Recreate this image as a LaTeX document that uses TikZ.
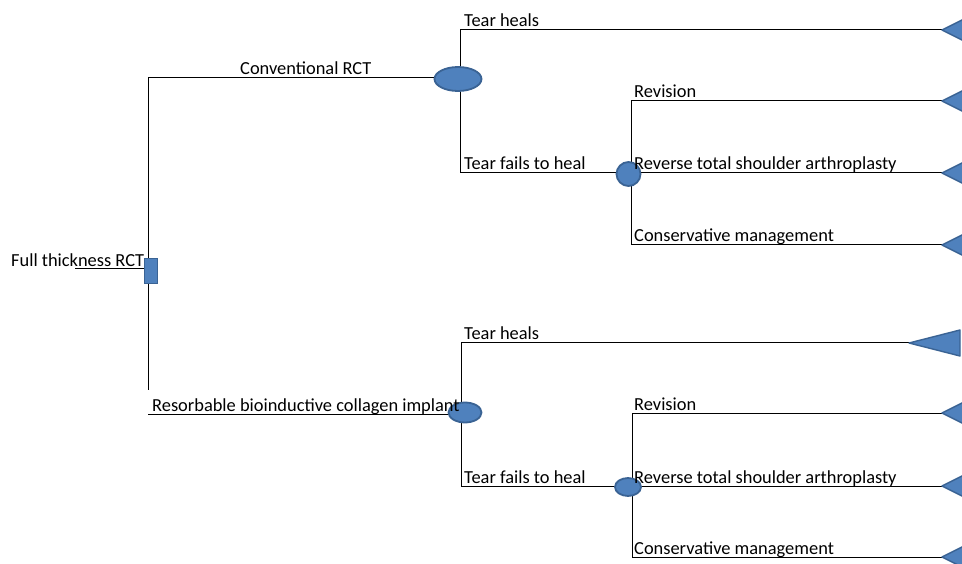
\documentclass[tikz,border=0pt]{standalone}
\usepackage{fontspec}
\setmainfont{Carlito}
\usetikzlibrary{shapes.geometric}
\definecolor{nodefill}{HTML}{4F81BD}
\definecolor{nodeedge}{HTML}{3A6394}
\begin{document}
\begin{tikzpicture}[x=1pt,y=-1pt,
  lbl/.style={anchor=base west, inner sep=0pt, font=\fontsize{18.4}{22}\selectfont},
  chance/.style={ellipse, draw=nodeedge, fill=nodefill, line width=1.8pt, inner sep=0pt},
  decision/.style={rectangle, draw=nodeedge, fill=nodefill, line width=1.5pt, inner sep=0pt, minimum width=13pt, minimum height=25pt},
  term/.style={draw=nodeedge, fill=nodefill, line width=1.4pt, line join=round},
  branch/.style={draw=black, line width=1pt}]
\useasboundingbox (0,0) rectangle (962,564);
\clip (0,0) rectangle (962,564);
\fill[white] (0,0) rectangle (962,564);

% coordinates
\coordinate (rs) at (75,269);
\coordinate (dtop) at (148,78);
\coordinate (dbot) at (148,390);
\coordinate (bstart) at (148,414);
\coordinate (c1t) at (460,30);
\coordinate (c1b) at (460,173);
\coordinate (c2t) at (631,101);
\coordinate (c2m) at (631,173);
\coordinate (c2b) at (631,245);
\coordinate (c3t) at (461,343);
\coordinate (c3b) at (461,486);
\coordinate (c4t) at (632,413);
\coordinate (c4m) at (632,486);
\coordinate (c4b) at (632,557);
\coordinate (t1) at (942,30);
\coordinate (t2) at (942,101);
\coordinate (t3) at (942,173);
\coordinate (t4) at (942,245);
\coordinate (t5) at (909,343);
\coordinate (t6) at (942,413);
\coordinate (t7) at (942,486);
\coordinate (t8) at (942,557);

% connectors
\draw[branch] (rs) -- (148,269);
\draw[branch] (dtop) -- (dbot);
\draw[branch] (dtop) -- (436,78);
\draw[branch] (bstart) -- (450,414);
\draw[branch] (c1t) -- (c1b);
\draw[branch] (c1t) -- (t1);
\draw[branch] (c1b) -- (618,173);
\draw[branch] (c2t) -- (c2b);
\draw[branch] (c2t) -- (t2);
\draw[branch] (c2m) -- (t3);
\draw[branch] (c2b) -- (t4);
\draw[branch] (c3t) -- (c3b);
\draw[branch] (c3t) -- (t5);
\draw[branch] (c3b) -- (616,486);
\draw[branch] (c4t) -- (c4b);
\draw[branch] (c4t) -- (t6);
\draw[branch] (c4m) -- (t7);
\draw[branch] (c4b) -- (t8);

% nodes
\node[decision] (D) at (151,271) {};
\node[chance, minimum width=47pt, minimum height=24pt] (C1) at (458,79) {};
\node[chance, minimum width=24pt, minimum height=24pt] (C2) at (628.5,174) {};
\node[chance, minimum width=33pt, minimum height=20pt] (C3) at (465,412.5) {};
\node[chance, minimum width=26pt, minimum height=18pt] (C4) at (628,487) {};

% terminal triangles
\draw[term] (t1) -- ++(48,-24) -- ++(0,48) -- cycle;
\draw[term] (t2) -- ++(48,-24) -- ++(0,48) -- cycle;
\draw[term] (t3) -- ++(48,-24) -- ++(0,48) -- cycle;
\draw[term] (t4) -- ++(48,-24) -- ++(0,48) -- cycle;
\draw[term] (t5) -- ++(51,-13) -- ++(0,26) -- cycle;
\draw[term] (t6) -- ++(48,-24) -- ++(0,48) -- cycle;
\draw[term] (t7) -- ++(48,-24) -- ++(0,48) -- cycle;
\draw[term] (t8) -- ++(48,-24) -- ++(0,48) -- cycle;

% labels
\node[lbl] (l0) at (11,267) {Full thickness RCT};
\node[lbl] (l1) at (240,75) {Conventional RCT};
\node[lbl] (l2) at (152,411) {Resorbable bioinductive collagen implant};
\node[lbl] (l3) at (464,27) {Tear heals};
\node[lbl] (l4) at (464,170) {Tear fails to heal};
\node[lbl] (l5) at (634,98) {Revision};
\node[lbl] (l6) at (634,170) {Reverse total shoulder arthroplasty};
\node[lbl] (l7) at (634,242) {Conservative management};
\node[lbl] (l8) at (464,340) {Tear heals};
\node[lbl] (l9) at (464,483) {Tear fails to heal};
\node[lbl] (l10) at (634,410) {Revision};
\node[lbl] (l11) at (634,483) {Reverse total shoulder arthroplasty};
\node[lbl] (l12) at (634,554) {Conservative management};
\end{tikzpicture}
\end{document}
